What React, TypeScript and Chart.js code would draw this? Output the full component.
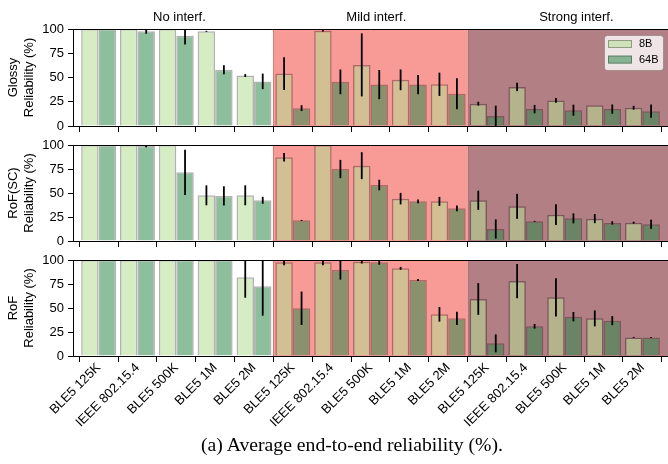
import React, { useEffect, useRef } from 'react';
import { Chart, registerables } from 'chart.js';
Chart.register(...registerables);

// ---------- data ----------
const categories = [
  'BLE5 125K', 'IEEE 802.15.4', 'BLE5 500K', 'BLE5 1M', 'BLE5 2M',
  'BLE5 125K', 'IEEE 802.15.4', 'BLE5 500K', 'BLE5 1M', 'BLE5 2M',
  'BLE5 125K', 'IEEE 802.15.4', 'BLE5 500K', 'BLE5 1M', 'BLE5 2M',
];
const seriesNames = ['8B', '64B'];
const regionNames = ['No interf.', 'Mild interf.', 'Strong interf.'];
const panelNames = ['Glossy', 'RoF(SC)', 'RoF'];

const glossy8B = [100, 100, 100, 97.6, 52, 54, 98.3, 63, 47.6, 43, 23, 40.3, 26.4, 21.5, 18.8];
const glossy8BErr = [0, 0, 0, 0.5, 1.5, 17, 1, 32.5, 10.7, 12, 2, 4.3, 2.5, 0, 2];
const glossy64B = [100, 97.6, 93, 58, 46, 18.4, 45.5, 42.7, 42.7, 33.3, 10.4, 17.4, 16.3, 17.4, 15.3];
const glossy64BErr = [0, 2.5, 9, 4.7, 8, 3, 12.7, 15, 10, 16, 10.5, 4.3, 5.7, 4.8, 6.8];

const rofsc8B = [100, 100, 100, 47.6, 47.6, 87.2, 100, 78.5, 44.1, 41.3, 42.4, 36.1, 27.4, 23.3, 19.1];
const rofsc8BErr = [0, 0, 0.5, 10.4, 10.4, 4.4, 0, 14, 6, 4.7, 10, 13, 10.8, 4.7, 1];
const rofsc64B = [100, 99, 71.5, 47, 42.4, 21.5, 75, 58.3, 41.3, 34, 12.5, 20.5, 23.6, 18.8, 17.4];
const rofsc64BErr = [0, 1.5, 23.5, 10, 3.6, 0.5, 9.5, 5.5, 2, 3, 10, 0.5, 5.2, 1.7, 4.8];

const rof8B = [100, 100, 100, 100, 82, 97.6, 97.6, 98.3, 91.3, 43.4, 59.4, 78, 61.1, 39.2, 19.4];
const rof8BErr = [0, 0, 0, 0, 21.3, 3, 3, 2, 1.5, 7.6, 16.5, 17.8, 20, 8.3, 0.5];
const rof64B = [100, 100, 100, 100, 72.6, 49.7, 89.6, 97.6, 79.2, 39.2, 13.2, 30.9, 41, 36.8, 19.2];
const rof64BErr = [0, 0, 0, 0, 30.6, 17.4, 10, 2.5, 1, 7, 9.4, 2.4, 4.9, 4.7, 0.5];

const panelValues = [
  [glossy8B, glossy64B],
  [rofsc8B, rofsc64B],
  [rof8B, rof64B],
];
const panelErrors = [
  [glossy8BErr, glossy64BErr],
  [rofsc8BErr, rofsc64BErr],
  [rof8BErr, rof64BErr],
];

// ---------- styles / layout ----------
const FONT = '"Liberation Sans", Arial, sans-serif';
const barColors = ['rgba(180,222,147,0.55)', 'rgba(48,138,77,0.55)'];
const barEdge = 'rgba(0,0,0,0.3)';
const regionFill = ['rgba(0,0,0,0)', '#f89a96', '#b27f84'];
const regionEdge = ['rgba(0,0,0,0)', 'rgba(215,70,70,0.6)', 'rgba(215,70,70,0.35)'];
const regionBounds = [-0.66, 4.5, 9.5, 14.66];
const regionLabelAt = [2.08, 7.15, 12.3];

const layoutSpec = [
  { top: 0, height: 140, padTop: 29, xh: 14, labels: false },
  { top: 130, height: 125, padTop: 15, xh: 14, labels: false },
  { top: 245, height: 219, padTop: 15, xh: 108, labels: true },
];

Chart.defaults.font.family = FONT;
Chart.defaults.color = '#000';

const shadingPlugin = {
  id: 'shading',
  beforeDatasetsDraw(chart: any) {
    const { ctx, chartArea, scales } = chart;
    const x = scales.x;
    ctx.save();
    for (let r = 0; r < 3; r++) {
      const a = Math.max(chartArea.left, x.getPixelForValue(regionBounds[r]));
      const b = Math.min(chartArea.right, x.getPixelForValue(regionBounds[r + 1]));
      ctx.fillStyle = regionFill[r];
      ctx.fillRect(a, chartArea.top, b - a, chartArea.bottom - chartArea.top);
      if (r > 0) {
        ctx.strokeStyle = regionEdge[r];
        ctx.lineWidth = 1;
        ctx.beginPath();
        ctx.moveTo(Math.round(a) + 0.5, chartArea.top);
        ctx.lineTo(Math.round(a) + 0.5, chartArea.bottom);
        ctx.stroke();
      }
    }
    ctx.restore();
  },
};

const errorBarPlugin = {
  id: 'errorBars',
  afterDatasetsDraw(chart: any, _args: any, opts: any) {
    const { ctx, chartArea, scales } = chart;
    const y = scales.y;
    ctx.save();
    ctx.beginPath();
    ctx.rect(chartArea.left, chartArea.top, chartArea.right - chartArea.left, chartArea.bottom - chartArea.top);
    ctx.clip();
    ctx.strokeStyle = '#000';
    ctx.lineWidth = 1.8;
    chart.data.datasets.forEach((ds: any, di: number) => {
      const meta = chart.getDatasetMeta(di);
      const errs = opts.errors[di];
      meta.data.forEach((el: any, i: number) => {
        const e = errs[i];
        if (!e) return;
        const v = ds.data[i].y;
        ctx.beginPath();
        ctx.moveTo(el.x, y.getPixelForValue(v - e));
        ctx.lineTo(el.x, y.getPixelForValue(v + e));
        ctx.stroke();
      });
    });
    ctx.restore();
    // top spine
    ctx.save();
    ctx.strokeStyle = '#000';
    ctx.lineWidth = 1;
    ctx.beginPath();
    ctx.moveTo(chartArea.left, Math.round(chartArea.top) + 0.5);
    ctx.lineTo(chartArea.right, Math.round(chartArea.top) + 0.5);
    ctx.stroke();
    ctx.restore();
  },
};

const regionLabelPlugin = {
  id: 'regionLabels',
  afterDraw(chart: any, _a: any, opts: any) {
    if (!opts.show) return;
    const { ctx, chartArea, scales } = chart;
    ctx.save();
    ctx.fillStyle = '#000';
    ctx.font = `13px ${FONT}`;
    ctx.textAlign = 'center';
    ctx.textBaseline = 'middle';
    regionNames.forEach((t, i) => {
      ctx.fillText(t, scales.x.getPixelForValue(regionLabelAt[i]), chartArea.top - 12);
    });
    ctx.restore();
  },
};

const boxLegendPlugin = {
  id: 'boxLegend',
  afterDraw(chart: any, _a: any, opts: any) {
    if (!opts.show) return;
    const { ctx, chartArea } = chart;
    const w = 59, h = 35;
    const x0 = chartArea.right - 5 - w;
    const y0 = chartArea.top + 6;
    ctx.save();
    ctx.beginPath();
    ctx.roundRect(x0 + 0.5, y0 + 0.5, w, h, 3);
    ctx.fillStyle = 'rgba(255,255,255,0.8)';
    ctx.fill();
    ctx.strokeStyle = 'rgba(0,0,0,0.2)';
    ctx.lineWidth = 1;
    ctx.stroke();
    chart.data.datasets.forEach((ds: any, i: number) => {
      const cy = y0 + 9 + i * 15.6;
      ctx.fillStyle = ds.backgroundColor;
      ctx.fillRect(x0 + 4, cy - 4, 24, 8);
      ctx.strokeStyle = ds.borderColor;
      ctx.strokeRect(x0 + 4.5, cy - 3.5, 23, 7);
      ctx.fillStyle = '#000';
      ctx.font = `11px ${FONT}`;
      ctx.textBaseline = 'middle';
      ctx.textAlign = 'left';
      ctx.fillText(ds.label, x0 + 35, cy);
    });
    ctx.restore();
  },
};

function makeConfig(p: number): any {
  const spec = layoutSpec[p];
  return {
    type: 'bar',
    data: {
      datasets: seriesNames.map((name, s) => ({
        label: name,
        data: panelValues[p][s].map((v, i) => ({ x: i, y: v })),
        backgroundColor: barColors[s],
        borderColor: barEdge,
        borderWidth: 1.5,
        categoryPercentage: 0.9,
        barPercentage: 1.0,
      })),
    },
    options: {
      responsive: false,
      animation: false,
      devicePixelRatio: 1,
      layout: { padding: { top: spec.padTop, left: 0, right: 0, bottom: 0 } },
      scales: {
        x: {
          type: 'linear',
          min: regionBounds[0],
          max: regionBounds[3],
          offset: false,
          afterBuildTicks: (s: any) => {
            s.ticks = categories.map((_, i) => ({ value: i }));
          },
          afterFit: (s: any) => {
            s.height = spec.xh;
          },
          ticks: {
            display: spec.labels,
            autoSkip: false,
            minRotation: 45,
            maxRotation: 45,
            padding: -2,
            labelOffset: 0,
            color: '#000',
            font: { size: 13 },
            callback: (v: any) => categories[Math.round(v)],
          },
          grid: { drawOnChartArea: false, drawTicks: true, tickLength: 6, color: '#000' },
          border: { color: '#000', width: 1, z: 1 },
        },
        y: {
          min: 0,
          max: 100,
          afterFit: (s: any) => {
            s.width = 73;
          },
          ticks: { stepSize: 25, color: '#000', font: { size: 13 }, padding: 4 },
          grid: { drawOnChartArea: false, drawTicks: true, tickLength: 5, color: '#000' },
          border: { color: '#000', width: 1, z: 1 },
          title: {
            display: true,
            text: [panelNames[p], 'Reliability (%)'],
            color: '#000',
            font: { size: 13 },
            padding: { top: 6, bottom: 0 },
          },
        },
      },
      plugins: {
        legend: { display: false },
        tooltip: { enabled: false },
        errorBars: { errors: panelErrors[p] },
        regionLabels: { show: p === 0 },
        boxLegend: { show: p === 0 },
      },
    },
    plugins: [shadingPlugin, errorBarPlugin, regionLabelPlugin, boxLegendPlugin],
  };
}

export default function App() {
  const r0 = useRef<HTMLCanvasElement>(null);
  const r1 = useRef<HTMLCanvasElement>(null);
  const r2 = useRef<HTMLCanvasElement>(null);
  const refs = [r0, r1, r2];

  useEffect(() => {
    const charts = refs.map((r, i) => new Chart(r.current as HTMLCanvasElement, makeConfig(i)));
    return () => charts.forEach((c) => c.destroy());
  }, []);

  return (
    <div style={{ position: 'absolute', left: 0, top: 0, width: 668, height: 464, background: '#fff', overflow: 'hidden' }}>
      {layoutSpec.map((s, i) => (
        <canvas
          key={i}
          ref={refs[i]}
          width={668}
          height={s.height}
          style={{ position: 'absolute', left: 0, top: s.top, width: 668, height: s.height }}
        />
      ))}
      <div
        style={{
          position: 'absolute',
          left: 0,
          width: 704,
          top: 435,
          textAlign: 'center',
          fontFamily: '"Liberation Serif", "Times New Roman", serif',
          fontSize: '19.7px',
          lineHeight: '19.7px',
          whiteSpace: 'nowrap',
          color: '#000',
        }}
      >
        (a) Average end-to-end reliability (%).
      </div>
    </div>
  );
}
